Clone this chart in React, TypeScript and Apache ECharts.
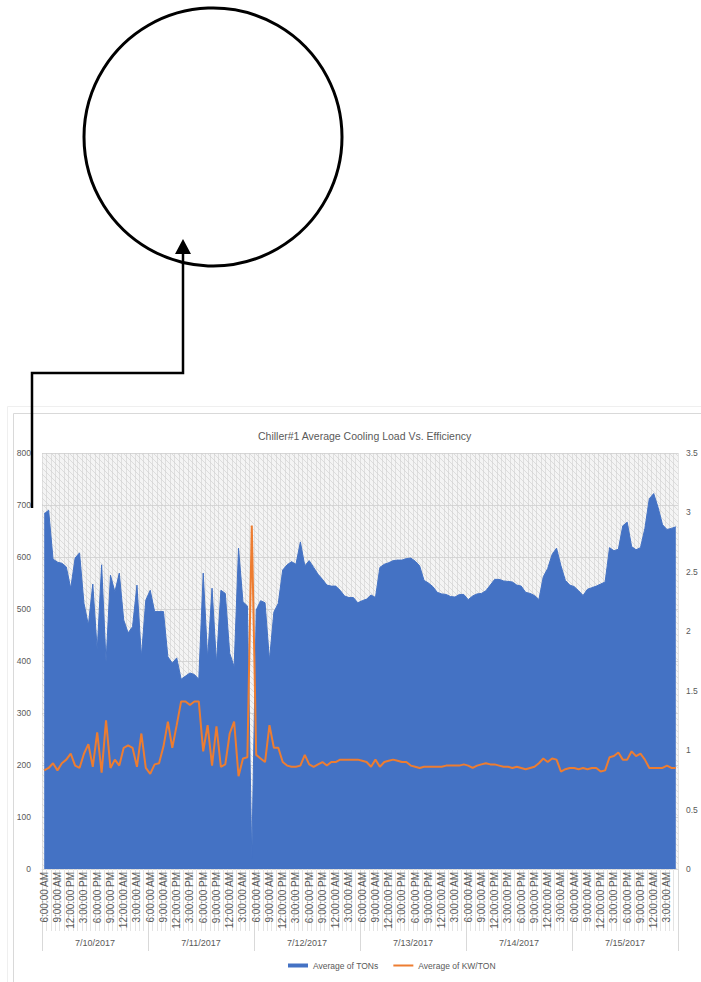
import React, { useEffect, useRef } from "react";
import * as echarts from "echarts";

// Day groups of the two-level category axis
const DAYS = ["7/10/2017", "7/11/2017", "7/12/2017", "7/13/2017", "7/14/2017", "7/15/2017"];

// Hourly readings, each day starting at 6 AM
const HOURS = [
  "6:00:00 AM", "7:00:00 AM", "8:00:00 AM", "9:00:00 AM", "10:00:00 AM", "11:00:00 AM",
  "12:00:00 PM", "1:00:00 PM", "2:00:00 PM", "3:00:00 PM", "4:00:00 PM", "5:00:00 PM",
  "6:00:00 PM", "7:00:00 PM", "8:00:00 PM", "9:00:00 PM", "10:00:00 PM", "11:00:00 PM",
  "12:00:00 AM", "1:00:00 AM", "2:00:00 AM", "3:00:00 AM", "4:00:00 AM", "5:00:00 AM",
];

// Average of TONs (left axis)
const TONS = [
  683, 690, 596, 590, 588, 581, 540, 598, 608, 511, 469, 548, 421, 585, 398, 565, 533, 569, 479, 454, 466, 546, 408, 517,
  536, 495, 495, 495, 408, 396, 406, 365, 371, 377, 374, 365, 569, 405, 540, 396, 536, 530, 415, 389, 617, 514, 506, 20,
  498, 516, 512, 402, 494, 511, 575, 585, 591, 586, 629, 583, 593, 580, 567, 557, 546, 544, 544, 536, 525, 522, 522, 512,
  516, 519, 527, 522, 580, 586, 589, 593, 594, 594, 597, 598, 592, 583, 555, 550, 543, 532, 529, 528, 524, 523, 528, 528,
  518, 525, 529, 530, 535, 546, 557, 557, 554, 553, 552, 546, 544, 532, 530, 526, 518, 562, 578, 605, 617, 583, 555, 546,
  543, 535, 526, 538, 541, 544, 548, 552, 618, 612, 615, 660, 667, 620, 614, 618, 655, 712, 722, 695, 662, 653, 655, 658,
];

// Average of KW/TON (right axis)
const KW_PER_TON = [
  0.83, 0.85, 0.89, 0.83, 0.89, 0.92, 0.97, 0.87, 0.85, 0.97, 1.05, 0.86, 1.15, 0.81, 1.25, 0.85, 0.92, 0.87, 1.02, 1.04, 1.02, 0.86, 1.14, 0.85,
  0.80, 0.88, 0.89, 1.03, 1.24, 1.02, 1.21, 1.41, 1.41, 1.38, 1.41, 1.41, 0.99, 1.21, 0.87, 1.20, 0.86, 0.88, 1.14, 1.24, 0.78, 0.93, 0.94, 2.89,
  0.96, 0.93, 0.90, 1.21, 1.02, 1.02, 0.90, 0.87, 0.86, 0.86, 0.87, 0.96, 0.88, 0.86, 0.88, 0.90, 0.87, 0.90, 0.90, 0.92, 0.92, 0.92, 0.92, 0.92,
  0.91, 0.90, 0.86, 0.92, 0.86, 0.90, 0.91, 0.92, 0.91, 0.90, 0.90, 0.87, 0.86, 0.85, 0.86, 0.86, 0.86, 0.86, 0.86, 0.87, 0.87, 0.87, 0.87, 0.88,
  0.87, 0.85, 0.87, 0.88, 0.89, 0.88, 0.88, 0.87, 0.86, 0.86, 0.85, 0.86, 0.85, 0.84, 0.85, 0.86, 0.89, 0.93, 0.90, 0.93, 0.92, 0.82, 0.84, 0.85,
  0.85, 0.84, 0.85, 0.84, 0.85, 0.85, 0.82, 0.83, 0.94, 0.95, 0.98, 0.92, 0.92, 0.99, 0.95, 0.97, 0.92, 0.85, 0.85, 0.85, 0.85, 0.87, 0.85, 0.85,
];

const SERIES_NAMES = ["Average of TONs", "Average of KW/TON"];
const TITLE = "Chiller#1 Average Cooling Load Vs. Efficiency";

const CATEGORIES = DAYS.flatMap((d) => HOURS.map((h) => `${d} ${h}`));

const FONT = "'Liberation Sans', Arial, sans-serif";
const TEXT = "#595959";
const BLUE = "#4472C4";
const ORANGE = "#ED7D31";

const hatchSvg =
  "<svg xmlns='http://www.w3.org/2000/svg' width='6' height='6'>" +
  "<rect width='6' height='6' fill='#f4f4f4'/>" +
  "<path d='M-1,-1 L7,7 M-4,2 L2,8 M2,-4 L8,2' stroke='#dcdcdc' stroke-width='1'/>" +
  "</svg>";
const HATCH_URL = "data:image/svg+xml;charset=utf-8," + encodeURIComponent(hatchSvg);

export default function App() {
  const ref = useRef<HTMLDivElement>(null);

  useEffect(() => {
    const chart = echarts.init(ref.current!, null, { renderer: "svg" });
    chart.setOption({
      animation: false,
      backgroundColor: "#ffffff",
      title: {
        text: TITLE,
        left: 253,
        top: 425,
        textStyle: { fontFamily: FONT, fontSize: 10.5, fontWeight: "normal", color: TEXT },
      },
      legend: {
        left: 283,
        top: 956,
        itemWidth: 20,
        itemHeight: 4,
        itemGap: 15,
        symbolKeepAspect: true,
        textStyle: { fontFamily: FONT, fontSize: 8.5, color: TEXT },
        data: [
          { name: SERIES_NAMES[0], icon: "rect" },
          { name: SERIES_NAMES[1], icon: "path://M0,0H20V2H0Z" },
        ],
      },
      grid: {
        left: 42,
        top: 453,
        width: 636,
        height: 416,
        show: true,
        borderWidth: 0,
        backgroundColor: { image: HATCH_URL, repeat: "repeat", imageWidth: 6, imageHeight: 6 } as any,
      },
      xAxis: [
        {
          type: "category",
          data: CATEGORIES,
          boundaryGap: true,
          position: "bottom",
          axisLine: { show: true, lineStyle: { color: "#d9d9d9" } },
          axisTick: { show: true, interval: 0, length: 62, lineStyle: { color: "#e4e4e4" } },
          axisLabel: {
            interval: 2,
            rotate: 90,
            margin: 3,
            fontFamily: FONT,
            fontSize: 10,
            color: TEXT,
            formatter: (v: string) => v.slice(v.indexOf(" ") + 1),
          },
          splitLine: { show: true, interval: 0, lineStyle: { color: "rgba(205,205,205,0.55)" } },
        },
        {
          type: "category",
          data: DAYS,
          boundaryGap: true,
          position: "bottom",
          axisLine: { show: false },
          axisTick: { show: true, length: 82, lineStyle: { color: "#d9d9d9" } },
          axisLabel: { margin: 69, fontFamily: FONT, fontSize: 9, color: TEXT },
          splitLine: { show: false },
        },
      ],
      yAxis: [
        {
          type: "value",
          min: 0,
          max: 800,
          interval: 100,
          axisLine: { show: false },
          axisTick: { show: false },
          axisLabel: { margin: 11, fontFamily: FONT, fontSize: 8.5, color: TEXT },
          splitLine: { show: true, lineStyle: { color: "#d6d6d6" } },
        },
        {
          type: "value",
          min: 0,
          max: 3.5,
          interval: 0.5,
          position: "right",
          axisLine: { show: false },
          axisTick: { show: false },
          axisLabel: { margin: 8, fontFamily: FONT, fontSize: 8.5, color: TEXT },
          splitLine: { show: false },
        },
      ],
      series: [
        {
          name: SERIES_NAMES[0],
          type: "line",
          xAxisIndex: 0,
          yAxisIndex: 0,
          data: TONS,
          symbol: "none",
          itemStyle: { color: BLUE },
          lineStyle: { color: BLUE, width: 1 },
          areaStyle: { color: BLUE, opacity: 1 },
          z: 2,
        },
        {
          name: SERIES_NAMES[1],
          type: "line",
          xAxisIndex: 0,
          yAxisIndex: 1,
          data: KW_PER_TON,
          symbol: "none",
          itemStyle: { color: ORANGE },
          lineStyle: { color: ORANGE, width: 2 },
          z: 3,
        },
      ],
      graphic: [
        // chart area frame
        { type: "rect", shape: { x: 7.5, y: 406.5, width: 760, height: 640 }, style: { fill: "none", stroke: "#efefef", lineWidth: 1 }, z: 1 },
        { type: "rect", shape: { x: 13.5, y: 413.5, width: 760, height: 640 }, style: { fill: "none", stroke: "#d9d9d9", lineWidth: 1 }, z: 1 },
        // callout circle and connector arrow
        { type: "circle", shape: { cx: 213, cy: 137, r: 129 }, style: { fill: "none", stroke: "#000", lineWidth: 3 }, z: 10 },
        {
          type: "polyline",
          shape: { points: [[32, 508], [32, 373], [183, 373], [183, 252]] },
          style: { fill: "none", stroke: "#000", lineWidth: 2.5 },
          z: 10,
        },
        { type: "polygon", shape: { points: [[183, 239], [175, 254], [191, 254]] }, style: { fill: "#000" }, z: 10 },
      ],
    });
    return () => chart.dispose();
  }, []);

  return (
    <div
      ref={ref}
      style={{ position: "fixed", left: 0, top: 0, width: 701, height: 982, background: "#fff" }}
    />
  );
}
